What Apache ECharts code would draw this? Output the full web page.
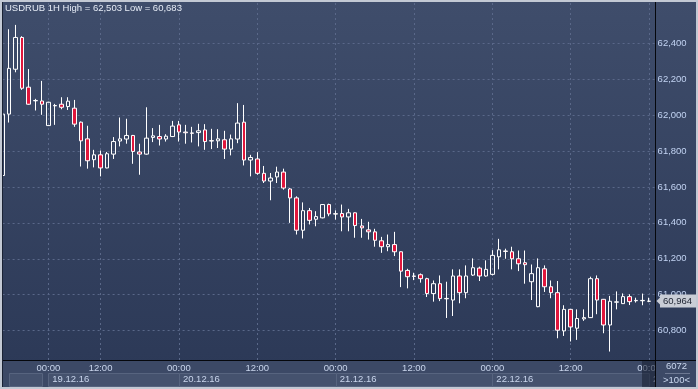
<!DOCTYPE html>
<html><head><meta charset="utf-8">
<script src="https://cdn.jsdelivr.net/npm/echarts@6/dist/echarts.min.js"></script>
<style>html,body{margin:0;padding:0;background:#2d3a57;}#c{width:698px;height:389px;}</style>
</head><body><div id="c"></div>
<script>
const symbolName = 'USDRUB';
const period = '1H';
// trading sessions: [date, first hour, last hour]
const sessions = [
  ['16.12.16', 23, 23],
  ['18.12.16', 18, 23],
  ['19.12.16', 0, 0],
  ['19.12.16', 5, 23],
  ['20.12.16', 0, 23],
  ['21.12.16', 0, 23],
  ['22.12.16', 0, 23],
  ['23.12.16', 0, 1]
];
const times = [];
sessions.forEach(([d, a, b]) => { for (let h = a; h <= b; h++) times.push(d + ' ' + String(h).padStart(2, '0') + ':00'); });

const opens = [61664,62006,62256,62433,62156,62080,62079,61942,62054,62061,
62048,62039,61961,61868,61752,61779,61706,61783,61856,61867,
61887,61795,61783,61876,61881,61867,61881,61946,61906,61901,
61903,61918,61858,61857,61863,61811,61867,61961,61750,61756,
61676,61633,61656,61683,61589,61539,61359,61468,61420,61428,
61502,61451,61452,61433,61456,61383,61361,61350,61300,61267,
61279,61239,61135,61104,61111,61089,61006,61061,60979,60970,
61104,61011,61109,61148,61104,61113,61211,61243,61239,61200,
61178,61072,60933,61144,61044,61011,60798,60918,60813,60865,
60872,61089,60974,60831,60958,60950,60989,60966,60966,60963];
const closes = [62006,62261,62433,62150,62061,62082,62061,62072,62052,62044,
62078,61950,61857,61746,61779,61706,61785,61853,61868,61887,
61798,61783,61872,61885,61867,61883,61939,61906,61902,61899,
61913,61853,61856,61868,61811,61868,61956,61750,61764,61676,
61633,61650,61683,61594,61539,61359,61468,61414,61435,61502,
61450,61449,61433,61456,61385,61372,61350,61303,61267,61279,
61239,61131,61100,61102,61089,61006,61061,60978,60977,61104,
61011,61104,61150,61104,61141,61219,61250,61241,61200,61172,
61167,61117,61150,61044,61011,60802,60918,60820,60867,60872,
61089,60970,60831,60963,60960,60989,60961,60968,60968,60964];
const lows = [61660,61959,62239,62141,62058,62026,62002,61940,61946,62033,
62029,61935,61714,61702,61709,61659,61704,61756,61826,61841,
61729,61668,61780,61850,61831,61853,61878,61853,61841,61848,
61826,61807,61811,61817,61756,61776,61844,61720,61659,61668,
61622,61526,61622,61585,61400,61335,61313,61391,61381,61425,
61437,61418,61353,61353,61317,61317,61307,61267,61233,61242,
61215,61042,61035,61081,61067,60987,60961,60964,60870,60881,
60952,60980,61104,61076,61100,61107,61141,61200,61141,61131,
61061,60970,60930,61015,60980,60757,60770,60739,60748,60854,
60870,60891,60785,60683,60918,60948,60942,60956,60941,60958];
const highs = [62010,62479,62503,62440,62257,62091,62191,62075,62063,62100,
62100,62085,61965,61941,61807,61803,61795,61878,61987,61980,
61890,61841,62044,61928,61946,61894,61968,61968,61946,61935,
61952,61950,61924,61922,61913,61892,62067,62057,61779,61794,
61717,61678,61713,61702,61594,61548,61514,61483,61465,61505,
61507,61470,61502,61478,61458,61422,61406,61367,61322,61335,
61350,61241,61144,61122,61118,61094,61079,61107,61072,61141,
61141,61163,61202,61156,61191,61248,61311,61256,61267,61246,
61246,61168,61202,61163,61079,61076,60941,60920,60918,60918,
61100,61107,60976,60993,61018,61007,61002,60983,61006,60983];
const yTicks = [60800, 61000, 61200, 61400, 61600, 61800, 62000, 62200, 62400];
const yRange = [60632, 62625];
const dateBoxes = [[1, 6], [7, 27], [27, 51], [51, 75], [75, 99]];
const barCountText = '6072';
const zoomText = '>100<';

const fmt = v => Math.round(v).toLocaleString('en-US');
const candles = opens.map((o, i) => [o, closes[i], lows[i], highs[i]]);
const lastClose = closes[closes.length - 1];
const FONT = 'Liberation Sans, Arial, sans-serif';
const isMajor = (i, v) => /\s(00|12):00$/.test(v);
const isDay = (i, v) => /\s00:00$/.test(v);

const chart = echarts.init(document.getElementById('c'), null, {renderer: 'canvas'});
chart.setOption({
  animation: false,
  backgroundColor: {type: 'linear', x: 0, y: 0, x2: 0, y2: 1, colorStops: [
    {offset: 0, color: '#3f4d6b'}, {offset: 1, color: '#2b3856'}]},
  title: {
    text: `${symbolName} ${period} High = ${fmt(Math.max(...highs))} Low = ${fmt(Math.min(...lows))}`,
    left: 3, top: 1, padding: [2, 2],
    textStyle: {color: '#e6ecf6', fontSize: 9.5, fontWeight: 'normal', fontFamily: FONT}
  },
  grid: {left: 2.6, right: 42.4, top: 3, bottom: 28.3, containLabel: false, outerBoundsMode: 'none'},
  xAxis: [{
    type: 'category', data: times, boundaryGap: false, position: 'bottom',
    axisLine: {show: false}, axisTick: {show: false},
    axisLabel: {interval: isMajor, formatter: v => v.split(' ')[1], color: '#c9d5ec', fontSize: 9.5, fontFamily: FONT, margin: 3},
    splitLine: {show: true, interval: isMajor, lineStyle: {color: '#5a6889', type: [2, 3], width: 1}}
  }, {
    type: 'category', data: times, boundaryGap: false, position: 'bottom', gridIndex: 0,
    axisLine: {show: false}, axisTick: {show: false}, splitLine: {show: false},
    axisLabel: {interval: isDay, formatter: v => v.split(' ')[0], color: '#c9d5ec', fontSize: 9.5, fontFamily: FONT, margin: 14, align: 'left', padding: [0, 0, 0, 4]}
  }],
  yAxis: {
    type: 'value', position: 'right', scale: true, min: yRange[0], max: yRange[1],
    axisLine: {show: false}, axisTick: {show: false, customValues: yTicks},
    axisLabel: {customValues: yTicks, formatter: v => fmt(v), color: '#c2d3f2', fontSize: 9.5, fontFamily: FONT, margin: 2},
    splitLine: {show: true, lineStyle: {color: '#5a6889', type: [2, 3], width: 1}}
  },
  series: [{
    type: 'candlestick', xAxisIndex: 0, data: candles, barWidth: 4, clip: true,
    itemStyle: {color: 'rgba(0,0,0,0)', color0: '#e0163c', borderColor: '#ffffff', borderColor0: '#ffffff', borderColorDoji: '#ffffff', borderWidth: 1}
  }]
});

const px = i => chart.convertToPixel({xAxisIndex: 0}, times[i]);
const py = v => chart.convertToPixel({yAxisIndex: 0}, v);
const W = 698, H = 389, axisY = 360.5, rightX = 655.5;
const g = [];
g.push({type: 'rect', z: -2, shape: {x: 0, y: axisY, width: W, height: H - axisY}, style: {fill: '#3c4966'}});
dateBoxes.forEach(([a, b]) => {
  g.push({type: 'rect', z: -1, shape: {x: Math.round(px(a)) + 0.5, y: 373.5, width: Math.round(px(b) - px(a)), height: 13}, style: {fill: '#45526e', stroke: '#57647f', lineWidth: 1}});
});
g.push({type: 'rect', z: 100, shape: {x: Math.round(px(99) - 7.5), y: axisY + 0.5, width: rightX - Math.round(px(99) - 7.5), height: 26}, style: {fill: 'rgba(22,30,48,0.55)'}});
g.push({type: 'rect', z: 100, shape: {x: rightX, y: axisY, width: W - rightX, height: H - axisY}, style: {fill: '#3c4966'}});
g.push({type: 'line', z: 110, shape: {x1: 0, y1: axisY, x2: W, y2: axisY}, style: {stroke: '#05070c', lineWidth: 1}});
g.push({type: 'line', z: 110, shape: {x1: rightX, y1: 2, x2: rightX, y2: H - 2}, style: {stroke: '#05070c', lineWidth: 1}});
g.push({type: 'line', z: 110, shape: {x1: 2.5, y1: 2, x2: 2.5, y2: H - 2}, style: {stroke: '#1a2234', lineWidth: 1}});
g.push({type: 'text', z: 111, x: 676.5, y: 366.5, style: {text: barCountText, fill: '#cbd8ef', font: '9.5px ' + FONT, align: 'center', verticalAlign: 'middle'}});
g.push({type: 'line', z: 111, shape: {x1: 665, y1: 373.5, x2: 690, y2: 373.5}, style: {stroke: '#6d7892', lineWidth: 1}});
g.push({type: 'text', z: 111, x: 676.5, y: 380.5, style: {text: zoomText, fill: '#cbd8ef', font: '9.5px ' + FONT, align: 'center', verticalAlign: 'middle'}});
const yl = py(lastClose);
g.push({type: 'polygon', z: 111, shape: {points: [[656.5, yl], [660.5, yl - 4], [660.5, yl + 4]]}, style: {fill: '#c9cdd6'}});
g.push({type: 'text', z: 111, x: 660, y: yl, style: {text: fmt(lastClose), fill: '#1c2230', font: '9.5px ' + FONT, align: 'left', verticalAlign: 'middle', backgroundColor: '#c9cdd6', padding: [2, 4, 1, 3]}});
g.push({type: 'rect', z: 120, shape: {x: 1, y: 1, width: W - 2, height: H - 2}, style: {fill: 'none', stroke: '#c3c9d4', lineWidth: 2}});
chart.setOption({graphic: g});
</script></body></html>
